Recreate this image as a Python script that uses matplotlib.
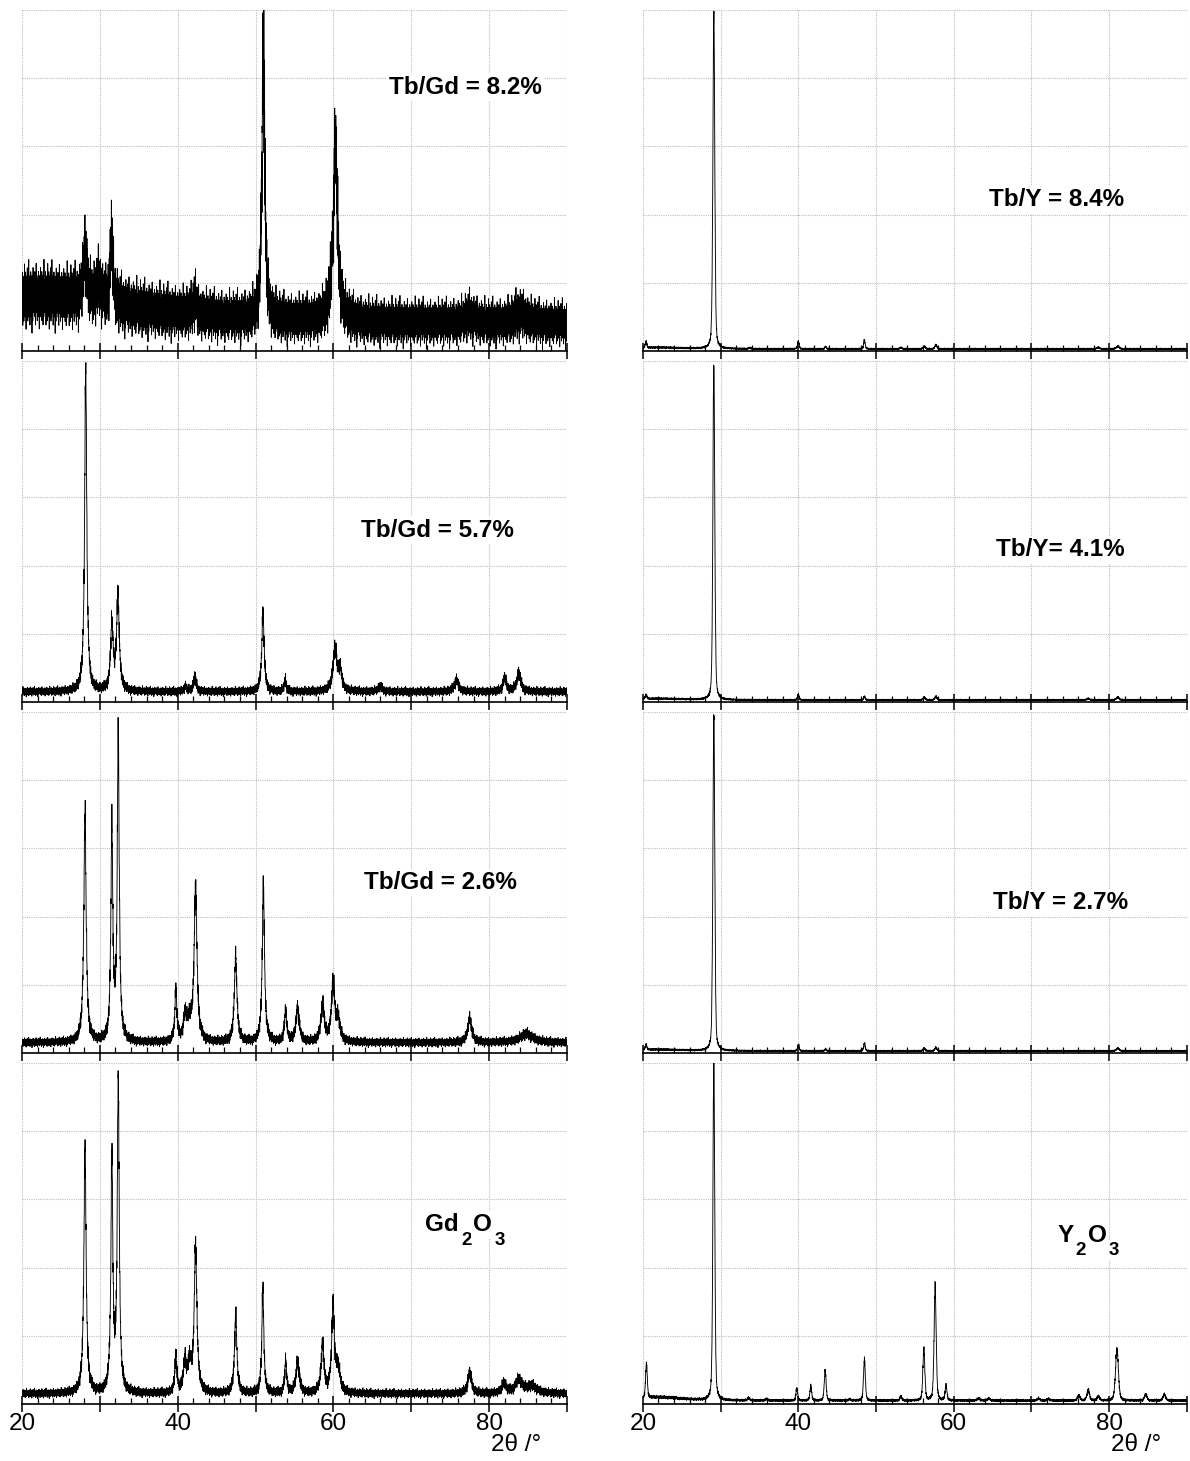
import numpy as np
import matplotlib
matplotlib.use('Agg')
from matplotlib import pyplot as plt
from matplotlib.ticker import MultipleLocator, FuncFormatter

plt.rcParams['font.family'] = ['Liberation Sans', 'DejaVu Sans']

# --- data (intensity as fraction of panel height) ---
# left column: Gd2O3 series
gd82_pos = [22.0, 28.1, 29.9, 31.5, 42.2, 51.0, 60.25, 77.5, 84.0]
gd82_height = [0.085, 0.15, 0.05, 0.2, 0.06, 0.85, 0.5, 0.02, 0.03]
gd82_width = [15.0, 0.25, 0.4, 0.2, 0.2, 0.2, 0.35, 0.8, 0.8]

gd57_pos = [28.18, 31.54, 32.32, 41.0, 42.2, 50.95, 53.8, 60.2, 60.85, 66.0, 75.8, 82.0, 83.8]
gd57_height = [0.95, 0.19, 0.28, 0.015, 0.045, 0.23, 0.035, 0.12, 0.06, 0.015, 0.035, 0.04, 0.055]
gd57_width = [0.16, 0.2, 0.2, 0.2, 0.2, 0.18, 0.15, 0.3, 0.25, 0.3, 0.3, 0.25, 0.3]

gd26_pos = [28.09, 31.54, 32.36, 39.76, 40.95, 41.5, 42.29, 47.44, 51.0, 53.86, 55.4,
            58.6, 59.95, 60.6, 77.5, 84.8]
gd26_height = [0.67, 0.62, 0.9, 0.15, 0.07, 0.05, 0.45, 0.25, 0.46, 0.09, 0.1,
               0.11, 0.17, 0.06, 0.07, 0.025]
gd26_width = [0.18, 0.15, 0.15, 0.15, 0.25, 0.3, 0.22, 0.2, 0.17, 0.18, 0.25,
              0.25, 0.25, 0.3, 0.3, 1.0]

gd00_pos = [28.09, 31.54, 32.36, 39.76, 40.9, 41.5, 42.29, 47.44, 50.93, 53.86, 55.4,
            58.6, 59.95, 60.6, 77.5, 81.9, 83.8, 85.5]
gd00_height = [0.72, 0.68, 0.92, 0.11, 0.08, 0.08, 0.43, 0.23, 0.31, 0.09, 0.09,
               0.14, 0.26, 0.07, 0.06, 0.03, 0.04, 0.02]
gd00_width = [0.17, 0.15, 0.15, 0.15, 0.2, 0.3, 0.2, 0.18, 0.15, 0.15, 0.25,
              0.22, 0.2, 0.3, 0.3, 0.3, 0.5, 0.8]

# right column: Y2O3 series
y84_pos = [22.0, 20.4, 29.12, 33.7, 40.0, 43.5, 48.5, 53.2, 56.2, 57.7, 78.6, 81.1]
y84_height = [0.004, 0.018, 0.99, 0.003, 0.022, 0.006, 0.025, 0.004, 0.007, 0.012, 0.004, 0.008]
y84_width = [3.5, 0.12, 0.14, 0.15, 0.12, 0.12, 0.12, 0.12, 0.15, 0.15, 0.2, 0.2]

y41_pos = [22.0, 20.4, 29.12, 40.0, 48.5, 56.2, 57.7, 77.3, 81.1]
y41_height = [0.004, 0.012, 0.99, 0.015, 0.01, 0.008, 0.01, 0.004, 0.008]
y41_width = [3.5, 0.12, 0.14, 0.12, 0.12, 0.15, 0.15, 0.2, 0.2]

y27_pos = [22.0, 20.4, 29.12, 40.0, 43.5, 48.5, 56.2, 57.7, 81.1]
y27_height = [0.004, 0.015, 0.99, 0.018, 0.005, 0.022, 0.008, 0.01, 0.008]
y27_width = [3.5, 0.12, 0.14, 0.12, 0.12, 0.12, 0.15, 0.15, 0.2]

y00_pos = [22.0, 20.45, 29.12, 33.6, 35.9, 39.8, 41.6, 43.45, 46.6, 48.5, 53.2, 56.15,
           57.6, 59.0, 63.2, 64.5, 70.9, 72.2, 76.1, 77.3, 78.6, 81.0, 84.7, 87.1]
y00_height = [0.01, 0.1, 0.99, 0.008, 0.005, 0.035, 0.04, 0.09, 0.004, 0.12, 0.012, 0.15,
              0.33, 0.04, 0.006, 0.006, 0.006, 0.005, 0.015, 0.03, 0.012, 0.15, 0.018, 0.018]
y00_width = [3.5, 0.13, 0.14, 0.15, 0.15, 0.13, 0.14, 0.14, 0.15, 0.14, 0.15, 0.15,
             0.16, 0.15, 0.2, 0.2, 0.2, 0.2, 0.2, 0.2, 0.2, 0.22, 0.2, 0.2]

baselines_left = [0.075, 0.03, 0.03, 0.03]
baselines_right = [0.006, 0.006, 0.006, 0.010]
noise_left = [0.27, 0.087, 0.087, 0.087]
noise_right = [0.035, 0.035, 0.035, 0.04]
# Lorentzian share of the peak shape in each column
lorentz_left = 1.0
lorentz_right = 0.35

labels_left = ['Tb/Gd = 8.2%', 'Tb/Gd = 5.7%', 'Tb/Gd = 2.6%', [('Gd', 0), ('2', 1), ('O', 0), ('3', 1)]]
labels_right = ['Tb/Y = 8.4%', 'Tb/Y= 4.1%', 'Tb/Y = 2.7%', [('Y', 0), ('2', 1), ('O', 0), ('3', 1)]]

# counting scatter, typed by hand (scaled by sqrt of intensity)
jitter = [2, -4, 6, -1, 3, -7, 1, 4, -3, 0, 5, -2, -6, 3, 1, -4, 8, -1, 2, -5, 4, -3, 0, 6,
          -2, 1, -8, 3, -1, 5, -4, 2, 0, -3, 7, -2, 4, -6, 1, -1, 3, -5, 2, 9, -3, 0, -2, 5,
          -4, 1, 3, -7, 2, -1, 4, -3, 6, 0, -5, 2, -2, 1, -4, 5, -9, 3, 0, -1, 4, -6, 2, 7,
          -3, 1, -2, 3, -4, 0, 5, -1, -3, 2, 6, -5, 1, -2, 4, -7, 3, 0, -1, 8, -4, 2, -3, 1,
          5, -2, -6, 3, -1, 4, 0, -5, 2, -3, 6, -1, 1, -4, 3, -8, 2, 5, -2, 0, -3, 4, -1, 7,
          -5, 1, 2, -4, 3, -2, 0, 6, -6, 1, -1, 4, -3, 2, 5, -7, 0, 3, -2, 1, -5, 9, -4, 2,
          -1, 3, -3, 0, 4]

left_peaks = [(gd82_pos, gd82_height, gd82_width), (gd57_pos, gd57_height, gd57_width),
              (gd26_pos, gd26_height, gd26_width), (gd00_pos, gd00_height, gd00_width)]
right_peaks = [(y84_pos, y84_height, y84_width), (y41_pos, y41_height, y41_width),
               (y27_pos, y27_height, y27_width), (y00_pos, y00_height, y00_width)]

two_theta = np.arange(20.0, 90.001, 0.02)


def pattern(peaks, base, amp, eta, shift):
    pos, height, width = peaks
    y = np.full_like(two_theta, base)
    for c, h, w in zip(pos, height, width):
        u = (two_theta - c) / w
        y += h * (eta / (1 + u ** 2) + (1 - eta) * np.exp(-np.log(2) * u ** 2))
    scatter = np.roll(np.resize(np.array(jitter) / 9.0, two_theta.size), shift)
    return y + amp * np.sqrt(y) * scatter


def style_axis(ax, bottom_row):
    ax.set_xlim(20, 90)
    ax.set_ylim(0, 1)
    for side in ['top', 'left', 'right']:
        ax.spines[side].set_visible(False)
    ax.spines['bottom'].set_linewidth(1.2)
    ax.xaxis.set_major_locator(MultipleLocator(10))
    ax.xaxis.set_minor_locator(MultipleLocator(2))
    ax.xaxis.set_major_formatter(FuncFormatter(
        lambda v, p: f'{v:.0f}' if v % 20 == 0 and v < 90 else ''))
    ax.set_yticks([0.2, 0.4, 0.6, 0.8, 1.0])
    ax.tick_params(axis='y', left=False, labelleft=False)
    ax.tick_params(axis='x', which='major', direction='inout', length=11, width=1.1,
                   labelsize=17.5, pad=1, labelbottom=bottom_row)
    ax.tick_params(axis='x', which='minor', direction='in', length=4, width=0.9)
    ax.grid(True, which='major', color='#bdbdbd', linestyle=(0, (1, 1)), linewidth=0.8)
    ax.set_axisbelow(True)


def put_label(ax, x, y, label):
    box = dict(facecolor='white', edgecolor='none', pad=1.5)
    if isinstance(label, str):
        ax.text(x, y, label, fontsize=17.5, fontweight='bold', ha='center', va='center',
                zorder=5, bbox=box)
        return
    prev = ax.text(x, y, label[0][0], fontsize=17.5, fontweight='bold', ha='left',
                   va='center', zorder=5, bbox=box)
    prev_sub = 0
    for piece, sub in label[1:]:
        dy = -9 if sub and not prev_sub else (9 if prev_sub and not sub else 0)
        prev = ax.annotate(piece, xy=(1, 0), xycoords=prev, xytext=(1.5, dy),
                           textcoords='offset points', fontsize=13.5 if sub else 17.5,
                           fontweight='bold', ha='left', va='bottom', zorder=5, bbox=box)
        prev_sub = sub


fig = plt.figure(figsize=(11.9, 14.61), dpi=100)
bottoms = [0.7598, 0.5195, 0.2793, 0.0390]
label_xy_left = [(76.9, 0.774), (73.3, 0.504), (73.7, 0.50), (71.8, 0.525)]
label_xy_right = [(73.2, 0.443), (73.7, 0.446), (73.7, 0.44), (73.3, 0.495)]

for row in range(4):
    for col, x0, w in [(0, 0.0185, 0.458), (1, 0.5403, 0.4571)]:
        ax = fig.add_axes([x0, bottoms[row], w, 0.2334])
        style_axis(ax, row == 3)
        if col == 0:
            y = pattern(left_peaks[row], baselines_left[row], noise_left[row],
                        lorentz_left, 37 * row)
            tx, ty = label_xy_left[row]
            text = labels_left[row]
        else:
            y = pattern(right_peaks[row], baselines_right[row], noise_right[row],
                        lorentz_right, 53 * row + 11)
            tx, ty = label_xy_right[row]
            text = labels_right[row]
        ax.plot(two_theta, y, color='black', linewidth=0.65)
        put_label(ax, tx, ty, text)

fig.text(0.434, 0.011, '2θ /°', fontsize=17.5, ha='center', va='center')
fig.text(0.955, 0.011, '2θ /°', fontsize=17.5, ha='center', va='center')

plt.savefig('out.png', dpi=100)
